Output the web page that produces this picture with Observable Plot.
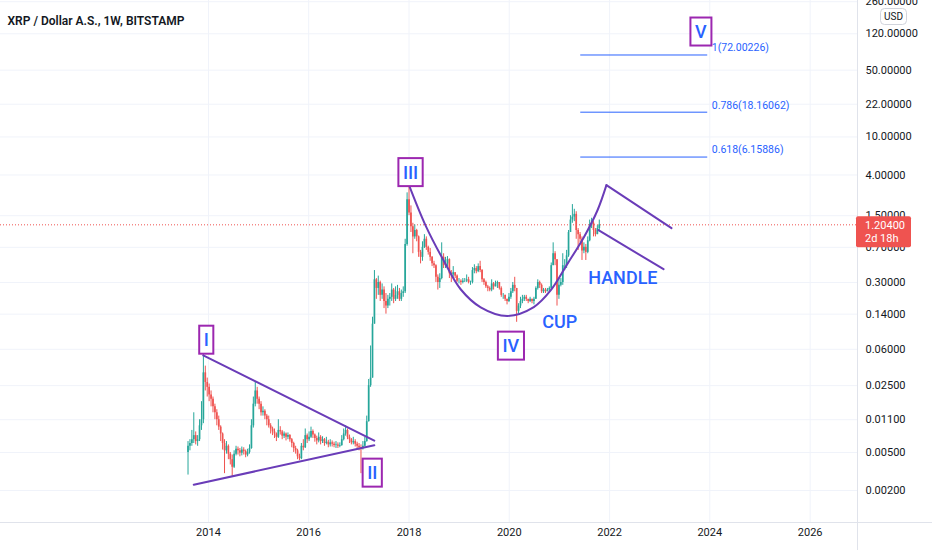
<!DOCTYPE html>
<html>
<head>
<meta charset="utf-8">
<script src="https://cdn.jsdelivr.net/npm/d3@7"></script>
<script src="https://cdn.jsdelivr.net/npm/@observablehq/plot@0.6"></script>
<style>
  html, body { margin: 0; padding: 0; background: #ffffff; }
  #chart svg { display: block; }
</style>
</head>
<body>
<div id="chart"></div>
<script>
// ---------------- DATA ----------------
const title = "XRP / Dollar A.S., 1W, BITSTAMP";
const candleStart = "2013-08-05";   // first candle
const candleStepDays = 14;          // each candle = 2 weeks
const firstOpen = 0.005;

const closes = [
  0.0058,0.0062,0.0068,0.0075,0.0065,0.0068,0.0095,0.011,0.034,0.027,
  0.024,0.02,0.018,0.015,0.013,0.011,0.0092,0.0078,0.0062,0.0052,
  0.0058,0.0048,0.0042,0.0035,0.0048,0.0054,0.0052,0.0049,0.0053,0.0051,
  0.0047,0.005,0.0055,0.0095,0.016,0.022,0.018,0.016,0.013,0.0135,
  0.012,0.011,0.0095,0.0088,0.0082,0.0078,0.0072,0.0085,0.0082,0.0074,
  0.0078,0.0072,0.0075,0.0068,0.0062,0.0055,0.0052,0.0045,0.0043,0.0058,
  0.0056,0.0075,0.0068,0.0072,0.0083,0.0076,0.007,0.0066,0.0072,0.0065,
  0.0068,0.0062,0.0064,0.006,0.0063,0.0061,0.0059,0.006,0.0058,0.0059,
  0.0068,0.0078,0.0085,0.0072,0.0068,0.0063,0.0065,0.0061,0.0058,0.0056,
  0.0055,0.0058,0.0065,0.0105,0.025,0.03,0.11,0.32,0.26,0.3,
  0.22,0.25,0.19,0.17,0.2,0.21,0.25,0.2,0.22,0.24,
  0.2,0.23,0.24,0.75,2.2,1.6,1.15,0.9,1.05,0.9,
  0.62,0.55,0.7,0.85,0.7,0.62,0.55,0.47,0.45,0.34,
  0.3,0.33,0.55,0.45,0.47,0.52,0.37,0.36,0.38,0.35,
  0.31,0.31,0.3,0.31,0.31,0.32,0.3,0.3,0.4,0.42,
  0.39,0.44,0.4,0.32,0.3,0.27,0.26,0.25,0.29,0.27,
  0.29,0.3,0.26,0.22,0.22,0.2,0.19,0.21,0.24,0.28,
  0.26,0.15,0.17,0.19,0.2,0.21,0.2,0.19,0.2,0.19,
  0.2,0.26,0.3,0.28,0.24,0.25,0.24,0.25,0.26,0.45,
  0.6,0.52,0.22,0.28,0.3,0.45,0.45,0.57,1.0,1.35,
  1.45,1.55,1.05,0.95,0.85,0.64,0.7,0.62,0.82,1.2,
  1.25,1.05,0.95,1.1,1.204
];
const highs = [
  0.0065,0.0068,0.0085,0.013,0.0082,0.0075,0.011,0.017,0.054,0.04,
  0.03,0.026,0.022,0.019,0.016,0.014,0.012,0.0095,0.008,0.0068,
  0.0065,0.006,0.005,0.0047,0.0052,0.0058,0.0057,0.0055,0.0057,0.0056,
  0.0053,0.0054,0.006,0.011,0.019,0.027,0.024,0.019,0.017,0.015,
  0.014,0.0125,0.012,0.01,0.0092,0.0088,0.008,0.011,0.0093,0.0085,
  0.0082,0.008,0.008,0.0077,0.007,0.0064,0.0058,0.0054,0.0048,0.0062,
  0.0068,0.0088,0.0078,0.0082,0.0092,0.0086,0.0078,0.0074,0.008,0.0075,
  0.0073,0.007,0.0072,0.0067,0.0068,0.0066,0.0064,0.0065,0.0063,0.0063,
  0.0075,0.0088,0.0095,0.0088,0.0076,0.007,0.0072,0.0068,0.0064,0.0062,
  0.006,0.0065,0.0072,0.012,0.029,0.065,0.13,0.4,0.33,0.35,
  0.31,0.29,0.27,0.23,0.22,0.23,0.29,0.26,0.27,0.28,
  0.26,0.25,0.27,0.85,2.6,3.3,1.9,1.25,1.2,1.08,
  0.92,0.65,0.8,0.95,0.9,0.72,0.68,0.56,0.5,0.46,
  0.36,0.37,0.78,0.6,0.55,0.56,0.53,0.4,0.44,0.38,
  0.36,0.33,0.32,0.33,0.33,0.36,0.34,0.31,0.43,0.46,
  0.44,0.47,0.5,0.41,0.33,0.31,0.28,0.27,0.32,0.3,
  0.31,0.31,0.3,0.27,0.23,0.22,0.2,0.23,0.26,0.3,
  0.34,0.26,0.18,0.21,0.22,0.22,0.22,0.2,0.21,0.2,
  0.21,0.27,0.32,0.31,0.29,0.26,0.26,0.26,0.27,0.48,
  0.78,0.63,0.52,0.33,0.33,0.6,0.52,0.65,1.05,1.5,
  1.96,1.75,1.65,1.1,1.0,0.9,0.78,0.75,0.9,1.35,
  1.41,1.3,1.1,1.18,1.35
];
const lows = [
  0.0029,0.0052,0.0058,0.0062,0.006,0.0058,0.0065,0.0085,0.01,0.022,
  0.019,0.017,0.015,0.013,0.011,0.0095,0.0085,0.0065,0.0053,0.003,
  0.0048,0.0042,0.0037,0.0028,0.0034,0.0046,0.0047,0.0045,0.0046,0.0047,
  0.0044,0.0045,0.0048,0.0054,0.009,0.015,0.016,0.014,0.012,0.012,
  0.011,0.0095,0.009,0.0078,0.0075,0.007,0.0065,0.007,0.0076,0.0068,
  0.007,0.0066,0.0068,0.0064,0.0056,0.005,0.0048,0.0042,0.0041,0.0042,
  0.0052,0.0055,0.0062,0.0065,0.007,0.007,0.0064,0.006,0.0063,0.006,
  0.0062,0.0058,0.006,0.0056,0.0057,0.0057,0.0056,0.0055,0.0055,0.0056,
  0.0058,0.0066,0.0074,0.0068,0.0062,0.006,0.006,0.0057,0.0054,0.0052,
  0.003,0.0053,0.0057,0.0064,0.0104,0.024,0.03,0.11,0.2,0.22,
  0.19,0.2,0.16,0.14,0.16,0.17,0.19,0.18,0.19,0.2,
  0.19,0.19,0.21,0.23,0.72,1.5,1.0,0.6,0.85,0.8,
  0.55,0.47,0.5,0.68,0.65,0.58,0.5,0.44,0.42,0.3,
  0.25,0.26,0.32,0.42,0.42,0.44,0.33,0.3,0.34,0.33,
  0.3,0.29,0.28,0.29,0.3,0.3,0.29,0.28,0.29,0.37,
  0.37,0.38,0.38,0.3,0.28,0.26,0.24,0.24,0.24,0.25,
  0.27,0.26,0.25,0.21,0.2,0.19,0.175,0.185,0.2,0.23,
  0.24,0.115,0.14,0.16,0.18,0.19,0.19,0.18,0.185,0.18,
  0.175,0.2,0.25,0.26,0.23,0.23,0.23,0.24,0.24,0.25,
  0.45,0.45,0.17,0.2,0.27,0.28,0.4,0.42,0.55,1.0,
  1.25,1.3,0.85,0.65,0.78,0.51,0.6,0.51,0.6,0.8,
  1.1,0.9,0.9,0.95,1.05
];

const yTicks = [260, 120, 50, 22, 10, 4, 1.5, 0.7, 0.3, 0.14, 0.06, 0.025, 0.011, 0.005, 0.002];
const xTickYears = [2014, 2016, 2018, 2020, 2022, 2024, 2026];
const xDomain = ["2009-11-08", "2026-12-12"];
const yDomain = [0.000925, 267.6];

// drawings (date, price)
const triangleUpper = [{date: "2013-11-24", price: 0.0518}, {date: "2017-04-23", price: 0.00665}];
const triangleLower = [{date: "2013-09-16", price: 0.0023}, {date: "2017-04-23", price: 0.00594}];
const cupCurve = [
  {date: "2017-12-27", price: 3.27}, {date: "2018-05-01", price: 1.19},
  {date: "2018-09-09", price: 0.513}, {date: "2019-01-12", price: 0.255},
  {date: "2019-06-07", price: 0.165}, {date: "2019-12-17", price: 0.134},
  {date: "2020-06-28", price: 0.166}, {date: "2020-10-30", price: 0.249},
  {date: "2021-03-01", price: 0.473}, {date: "2021-06-29", price: 0.90},
  {date: "2021-10-05", price: 1.71}, {date: "2021-12-09", price: 3.13}
];
const handleUpper = [{date: "2021-12-09", price: 3.13}, {date: "2023-03-28", price: 1.11}];
const handleLower = [{date: "2021-10-12", price: 1.06}, {date: "2023-01-29", price: 0.413}];

const fibStart = "2021-06-05";
const fibEnd = "2023-12-17";
const fibLevels = [
  {price: 72.00226, label: "1(72.00226)"},
  {price: 18.16062, label: "0.786(18.16062)"},
  {price: 6.15886, label: "0.618(6.15886)"}
];

const waveLabels = [
  {date: "2013-12-16", price: 0.0743, label: "I"},
  {date: "2017-04-08", price: 0.00302, label: "II"},
  {date: "2018-01-12", price: 4.21, label: "III"},
  {date: "2020-01-12", price: 0.0644, label: "IV"},
  {date: "2023-10-27", price: 124.5, label: "V"}
];
const patternLabels = [
  {date: "2021-01-03", price: 0.1156, label: "CUP"},
  {date: "2022-04-08", price: 0.33, label: "HANDLE"}
];
const lastPrice = 1.204;
const lastPriceText = "1.20400";
const countdownText = "2d 18h";
const currencyText = "USD";

// ---------------- BUILD ----------------
const UP = "#26a69a", DOWN = "#ef5350";
const parse = s => new Date(s + "T00:00:00Z");
const t0 = parse(candleStart).getTime();
const candles = closes.map((c, i) => ({
  date: new Date(t0 + i * candleStepDays * 864e5),
  open: i === 0 ? firstOpen : closes[i - 1],
  close: c, high: highs[i], low: lows[i]
}));
candles.forEach(d => d.color = d.close >= d.open ? UP : DOWN);
const toD = arr => arr.map(d => ({...d, date: parse(d.date)}));
const xTicks = xTickYears.map(y => new Date(Date.UTC(y, 0, 1)));
const fibData = fibLevels.map(d => ({...d, x1: parse(fibStart), x2: parse(fibEnd)}));

const LINE = "#6a3cb8";
const BLUE = "#2962ff";
const FONT = "Roboto, 'Noto Sans', sans-serif";

const chart = Plot.plot({
  width: 932, height: 550,
  marginLeft: 0, marginRight: 75, marginTop: 0, marginBottom: 28,
  style: {fontFamily: FONT, background: "#ffffff", color: "#131722"},
  x: {type: "utc", domain: xDomain.map(parse), axis: null},
  y: {type: "log", domain: yDomain, axis: null},
  marks: [
    Plot.ruleX(xTicks, {x: d => d, stroke: "#f0f3fa", strokeWidth: 1}),
    Plot.ruleY(yTicks, {y: d => d, stroke: "#f0f3fa", strokeWidth: 1}),
    Plot.text(xTicks, {x: d => d, frameAnchor: "bottom", dy: 13, text: d3.utcFormat("%Y"), fontSize: 11, fill: "#131722"}),
    Plot.text(yTicks, {y: d => d, frameAnchor: "right", dx: 8, textAnchor: "start", text: d => d.toFixed(5), fontSize: 11, fill: "#131722"}),
    Plot.ruleY([lastPrice], {stroke: DOWN, strokeWidth: 1, strokeDasharray: "1,2"}),
    // candles
    Plot.ruleX(candles, {x: "date", y1: "low", y2: "high", stroke: "color", strokeWidth: 1}),
    Plot.ruleX(candles, {x: "date", y1: "open", y2: "close", stroke: "color", strokeWidth: 1.7}),
    // drawings
    Plot.line(toD(triangleUpper), {x: "date", y: "price", stroke: LINE, strokeWidth: 2}),
    Plot.line(toD(triangleLower), {x: "date", y: "price", stroke: LINE, strokeWidth: 2}),
    Plot.line(toD(cupCurve), {x: "date", y: "price", stroke: LINE, strokeWidth: 2, curve: "catmull-rom"}),
    Plot.line(toD(handleUpper), {x: "date", y: "price", stroke: LINE, strokeWidth: 2}),
    Plot.line(toD(handleLower), {x: "date", y: "price", stroke: LINE, strokeWidth: 2}),
    Plot.ruleY(fibData, {y: "price", x1: "x1", x2: "x2", stroke: BLUE, strokeWidth: 1}),
    Plot.text(fibData, {x: "x2", y: "price", text: "label", textAnchor: "start", dx: 4, dy: -7, fill: BLUE, fontSize: 10.5}),
    Plot.text(toD(waveLabels), {x: "date", y: "price", text: "label", fill: BLUE, fontSize: 18, fontWeight: 500, className: "wave"}),
    Plot.text(toD(patternLabels), {x: "date", y: "price", text: "label", fill: BLUE, fontSize: 18, fontWeight: 500}),
    Plot.text([title], {frameAnchor: "top-left", dx: 7, dy: 16, text: d => d, fontSize: 12, fontWeight: 600, fill: "#131722", textAnchor: "start"})
  ]
});

document.getElementById("chart").append(chart);

// ----- post decorations -----
const svg = d3.select(chart);
const sr = chart.getBoundingClientRect();
const boxLayer = svg.insert("g", "g.wave");
svg.selectAll("g.wave text").each(function () {
  const r = this.getBoundingClientRect();
  boxLayer.append("rect")
    .attr("x", r.left - sr.left - 4.5).attr("y", r.top - sr.top - 3.5)
    .attr("width", r.width + 9).attr("height", r.height + 7)
    .attr("fill", "#ffffff").attr("stroke", "#9c27b0").attr("stroke-width", 2);
});

const W = 932, H = 550, axisX = 932 - 75, axisY = 550 - 28;
svg.append("line").attr("x1", axisX + 0.5).attr("x2", axisX + 0.5).attr("y1", 0).attr("y2", H)
  .attr("stroke", "#e0e3eb");
svg.append("line").attr("x1", 0).attr("x2", W).attr("y1", axisY + 0.5).attr("y2", axisY + 0.5)
  .attr("stroke", "#e0e3eb");

// currency badge
svg.append("rect").attr("x", 880.5).attr("y", 8.5).attr("width", 26).attr("height", 16).attr("rx", 4)
  .attr("fill", "#ffffff").attr("stroke", "#d1d4dc");
svg.append("text").attr("x", 893.5).attr("y", 16.5).attr("text-anchor", "middle").attr("dominant-baseline", "central")
  .attr("font-family", FONT).attr("font-size", 10).attr("fill", "#131722").text(currencyText);

// last price label
const py = chart.scale("y").apply(lastPrice);
svg.append("rect").attr("x", axisX - 1).attr("y", py - 8).attr("width", 55).attr("height", 31).attr("rx", 2)
  .attr("fill", DOWN);
svg.append("text").attr("x", axisX + 8).attr("y", py + 1).attr("text-anchor", "start").attr("dominant-baseline", "central")
  .attr("font-family", FONT).attr("font-size", 11).attr("fill", "#ffffff").text(lastPriceText);
svg.append("text").attr("x", axisX + 8).attr("y", py + 14.5).attr("text-anchor", "start").attr("dominant-baseline", "central")
  .attr("font-family", FONT).attr("font-size", 11).attr("fill", "#ffffff").text(countdownText);
</script>
</body>
</html>
